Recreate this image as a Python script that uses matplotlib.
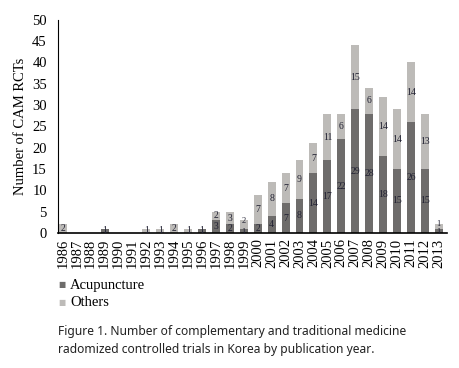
import matplotlib
matplotlib.use("Agg")
import matplotlib.pyplot as plt
import numpy as np

years = list(range(1986, 2014))
acupuncture = [0, 0, 0, 1, 0, 0, 0, 0, 0, 0, 1, 3, 2, 1, 2, 4, 7, 8, 14, 17, 22, 29, 28, 18, 15, 26, 15, 1]
others = [2, 0, 0, 0, 0, 0, 1, 1, 2, 1, 0, 2, 3, 2, 7, 8, 7, 9, 7, 11, 6, 15, 6, 14, 14, 14, 13, 1]

dark = "#6e6c6b"
light = "#bdbbb8"
serif = "Liberation Serif"

fig = plt.figure(figsize=(4.6, 3.68), dpi=100)
ax = fig.add_axes([0.126, 0.367, 0.846, 0.579])
x = np.arange(len(years))
w = 0.57
ax.bar(x, acupuncture, w, color=dark, label="Acupuncture")
ax.bar(x, others, w, bottom=acupuncture, color=light, label="Others")

for i in range(len(years)):
    a, o = acupuncture[i], others[i]
    small = a > 0 and o > 0 and a + o < 4
    if a > 0:
        ax.text(x[i], a / 2 - (0.2 if small else 0), str(a), ha="center", va="center",
                fontsize=7 if not small else 6, family=serif, color="#222233")
    if o > 0:
        ax.text(x[i], a + o / 2 + (0.7 if small else 0), str(o),
                ha="center", va="center", fontsize=7 if not small else 6,
                family=serif, color="#222233")

ax.set_xlim(-0.35, len(years) - 0.4)
ax.set_ylim(0, 50)
ax.set_yticks(range(0, 51, 5))
ax.set_xticks(x)
ax.set_xticklabels([str(y) for y in years], rotation=90, family=serif, fontsize=10.5)
for t in ax.get_yticklabels():
    t.set_family(serif)
    t.set_fontsize(10.5)
ax.tick_params(axis="x", length=0, pad=4)
ax.tick_params(axis="y", length=0, pad=8)
ax.spines["top"].set_visible(False)
ax.spines["right"].set_visible(False)
ax.spines["left"].set_linewidth(0.8)
ax.spines["bottom"].set_linewidth(1.2)
ax.set_ylabel("Number of CAM RCTs", family=serif, fontsize=10.5, labelpad=4)

# legend
fig.text(0.126, 1 - 285 / 368, "\u25a0", color=dark, fontsize=5.5, va="center", ha="left")
fig.text(0.152, 1 - 285 / 368, "Acupuncture", family=serif, fontsize=10.5, va="center", ha="left")
fig.text(0.126, 1 - 302 / 368, "\u25a0", color=light, fontsize=5.5, va="center", ha="left")
fig.text(0.152, 1 - 302 / 368, "Others", family=serif, fontsize=10.5, va="center", ha="left")

fig.text(0.126, 1 - 331 / 368, "Figure 1. Number of complementary and traditional medicine",
         family="Noto Sans", fontsize=8.7, va="center", ha="left", color="#222222")
fig.text(0.126, 1 - 350 / 368, "radomized controlled trials in Korea by publication year.",
         family="Noto Sans", fontsize=8.7, va="center", ha="left", color="#222222")

fig.savefig("out.png", dpi=100)
